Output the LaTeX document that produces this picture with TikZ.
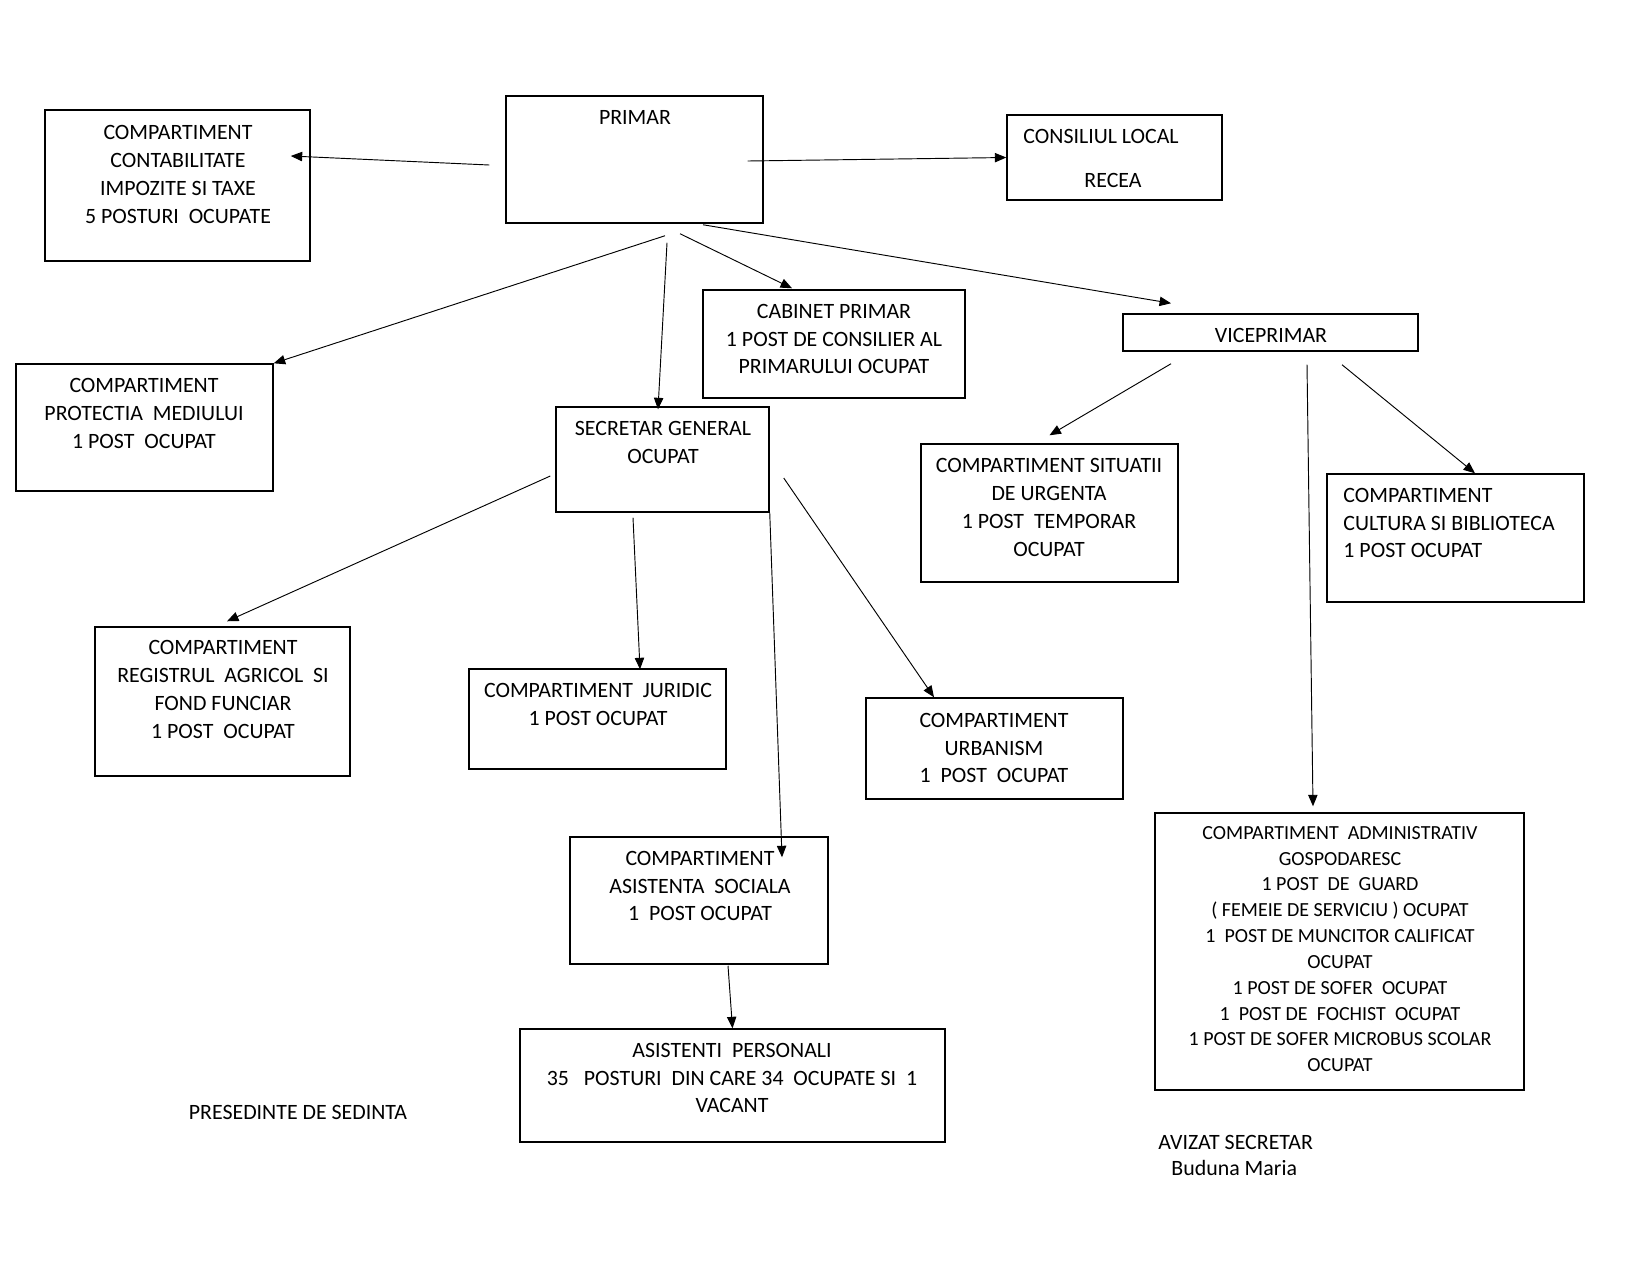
\documentclass[tikz,border=0pt]{standalone}
\usepackage{fontspec}
\setmainfont{Carlito}
\usetikzlibrary{arrows.meta,calc,fit}

\begin{document}
\begin{tikzpicture}[x=0.48pt, y=-0.48pt, >={Triangle[length=5.5pt,width=4.5pt]},
    box/.style={draw, line width=0.7pt, inner sep=0pt},
    lbl/.style={inner sep=0pt, align=center, font=\fontsize{10.5}{13.4}\selectfont},
    lbll/.style={lbl, align=left, anchor=west},
    conn/.style={->, line width=0.45pt}]
    \useasboundingbox (0,0) rectangle (1650,1275);
    % boxes
    \node[box, fit={(506,96) (763,223)}] (primar) {};
    \node[box, fit={(45,110) (310,261)}] (contab) {};
    \node[box, fit={(1007,115) (1222,200)}] (consil) {};
    \node[box, fit={(703,290) (965,398)}] (cabinet) {};
    \node[box, fit={(1123,314) (1418,351)}] (vice) {};
    \node[box, fit={(16,364) (273,491)}] (protectia) {};
    \node[box, fit={(556,407) (769,512)}] (secretar) {};
    \node[box, fit={(921,444) (1178,582)}] (situatii) {};
    \node[box, fit={(1327,474) (1584,602)}] (cultura) {};
    \node[box, fit={(95,627) (350,776)}] (registrul) {};
    \node[box, fit={(469,669) (726,769)}] (juridic) {};
    \node[box, fit={(866,698) (1123,799)}] (urbanism) {};
    \node[box, fit={(570,837) (828,964)}] (asistenta) {};
    \node[box, fit={(1155,813) (1524,1090)}] (admin) {};
    \node[box, fit={(520,1029) (945,1142)}] (personali) {};
    % texts
    \node[lbl] (tPrimar) at (635,117) {PRIMAR};
    \node[lbl] (tContab) at (178,174.5) {COMPARTIMENT\\CONTABILITATE\\IMPOZITE SI TAXE\\5 POSTURI~ OCUPATE};
    \node[lbll] (tConsil) at (1023,136) {CONSILIUL LOCAL};
    \node[lbl] (tRecea) at (1113,180) {RECEA};
    \node[lbl] (tCabinet) at (834,339) {CABINET PRIMAR\\1 POST DE CONSILIER AL\\PRIMARULUI OCUPAT};
    \node[lbl] (tVice) at (1271,335) {VICEPRIMAR};
    \node[lbl] (tProtectia) at (144,413.5) {COMPARTIMENT\\PROTECTIA~ MEDIULUI\\1 POST~ OCUPAT};
    \node[lbl] (tSecretar) at (663,442.5) {SECRETAR GENERAL\\OCUPAT};
    \node[lbl] (tSituatii) at (1049,507.5) {COMPARTIMENT SITUATII\\DE URGENTA\\1 POST~ TEMPORAR\\OCUPAT};
    \node[lbll] (tCultura) at (1343,523) {COMPARTIMENT\\CULTURA SI BIBLIOTECA\\1 POST OCUPAT};
    \node[lbl] (tRegistrul) at (223,689.5) {COMPARTIMENT\\REGISTRUL~ AGRICOL~ SI\\FOND FUNCIAR\\1 POST~ OCUPAT};
    \node[lbl] (tJuridic) at (598,704.5) {COMPARTIMENT~ JURIDIC\\1 POST OCUPAT};
    \node[lbl] (tUrbanism) at (994,748) {COMPARTIMENT\\URBANISM\\1~ POST~ OCUPAT};
    \node[lbl] (tAsistenta) at (700,886) {COMPARTIMENT\\ASISTENTA~ SOCIALA\\1~ POST OCUPAT};
    \node[lbl] (tPersonali) at (732,1078) {ASISTENTI~ PERSONALI\\35~~ POSTURI~ DIN CARE 34~ OCUPATE SI~ 1\\VACANT};
    \node[lbl, font=\fontsize{9.6}{12.4}\selectfont] (tAdmin) at (1340,949) {COMPARTIMENT~ ADMINISTRATIV\\GOSPODARESC\\1 POST~ DE~ GUARD\\( FEMEIE DE SERVICIU ) OCUPAT\\1~ POST DE MUNCITOR CALIFICAT\\OCUPAT\\1 POST DE SOFER~ OCUPAT\\1~ POST DE~ FOCHIST~ OCUPAT\\1 POST DE SOFER MICROBUS SCOLAR\\OCUPAT};
    \node[lbl] (tPresedinte) at (298,1112) {PRESEDINTE DE SEDINTA};
    \node[lbll] (tAvizat) at (1158,1142) {AVIZAT SECRETAR};
    \node[lbll] (tBuduna) at (1171,1168) {Buduna Maria};
    % connectors
    \draw[conn] ($(primar.west)+(-16,5.5)$) -- ($(contab.east)+(-20,-29.5)$);
    \draw[conn] ($(primar.east)+(-16,1.5)$) -- (consil.west);
    \draw[conn] ($(primar.south)+(30.5,12)$) -- (protectia.north east);
    \draw[conn] ($(primar.south)+(32.5,19)$) -- ($(secretar.north)+(-4.5,3)$);
    \draw[conn] ($(primar.south)+(45.5,10)$) -- ($(cabinet.north)+(-42,-1)$);
    \draw[conn] ($(primar.south)+(68.5,1)$) -- ($(vice.north)+(-99.5,-10)$);
    \draw[conn] ($(vice.south)+(-99.5,12)$) -- ($(situatii.north)+(0,-8)$);
    \draw[conn] ($(vice.south)+(36.5,13)$) -- ($(admin.north)+(-26.5,-6)$);
    \draw[conn] ($(vice.south)+(71.5,13)$) -- ($(cultura.north)+(19.5,0)$);
    \draw[conn] ($(secretar.west)+(-5,16.5)$) -- ($(registrul.north)+(4.5,-5)$);
    \draw[conn] ($(secretar.south)+(-29.5,5)$) -- ($(juridic.north)+(42.5,1)$);
    \draw[conn] (secretar.south east) -- ($(asistenta.north)+(83,21)$);
    \draw[conn] ($(secretar.east)+(14,18.5)$) -- ($(urbanism.north)+(-60.5,0)$);
    \draw[conn] ($(asistenta.south)+(29,1)$) -- (personali.north);
\end{tikzpicture}
\end{document}
